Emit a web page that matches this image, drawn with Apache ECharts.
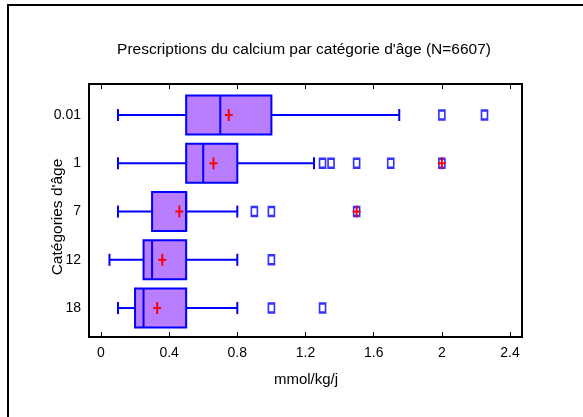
<!DOCTYPE html>
<html>
<head>
<meta charset="utf-8">
<script src="https://cdn.jsdelivr.net/npm/echarts@6/dist/echarts.min.js"></script>
<style>html,body{margin:0;padding:0;background:#fff}#c{width:583px;height:417px}</style>
</head>
<body>
<div id="c"></div>
<script>
var categories = ['0.01', '1', '7', '12', '18'];
var whiskerLow = [0.1, 0.1, 0.1, 0.05, 0.1];
var q1 = [0.5, 0.5, 0.3, 0.25, 0.2];
var median = [0.7, 0.6, 0.5, 0.3, 0.25];
var q3 = [1.0, 0.8, 0.5, 0.5, 0.5];
var whiskerHigh = [1.75, 1.25, 0.8, 0.8, 0.8];
var means = [0.75, 0.66, 0.46, 0.36, 0.33];
var outliers = [[0, 2.0], [0, 2.25], [1, 1.3], [1, 1.35], [1, 1.5], [1, 1.7], [1, 2.0], [2, 0.9], [2, 1.0], [2, 1.5], [3, 1.0], [4, 1.0], [4, 1.3]];
var extremes = [[1, 2.0], [2, 1.5]];
var xTicks = [0, 0.4, 0.8, 1.2, 1.6, 2, 2.4];

var FONT = 'Liberation Sans';
var BLUE = '#0000ff';
var FILL = '#b97dff';
var RED = '#ff0000';

var boxData = categories.map(function (c, i) {
  return [i + 1, whiskerLow[i], q1[i], median[i], q3[i], whiskerHigh[i]];
});
var meanData = categories.map(function (c, i) { return [means[i], i + 1]; });
var outlierData = outliers.map(function (o) { return [o[1], o[0] + 1]; });
var extremeData = extremes.map(function (o) { return [o[1], o[0] + 1]; });

function renderBox(params, api) {
  var y = api.value(0);
  var pLow = api.coord([api.value(1), y]);
  var pQ1 = api.coord([api.value(2), y]);
  var pMed = api.coord([api.value(3), y]);
  var pQ3 = api.coord([api.value(4), y]);
  var pHigh = api.coord([api.value(5), y]);
  var h = 39, cap = 12;
  var cy = pQ1[1];
  var ls = { stroke: BLUE, lineWidth: 2 };
  return {
    type: 'group',
    children: [
      { type: 'line', shape: { x1: pLow[0], y1: cy, x2: pQ1[0], y2: cy }, style: ls },
      { type: 'line', shape: { x1: pQ3[0], y1: cy, x2: pHigh[0], y2: cy }, style: ls },
      { type: 'line', shape: { x1: pLow[0], y1: cy - cap / 2, x2: pLow[0], y2: cy + cap / 2 }, style: ls },
      { type: 'line', shape: { x1: pHigh[0], y1: cy - cap / 2, x2: pHigh[0], y2: cy + cap / 2 }, style: ls },
      { type: 'rect', shape: { x: pQ1[0], y: cy - h / 2, width: pQ3[0] - pQ1[0], height: h }, style: { fill: FILL, stroke: BLUE, lineWidth: 2 } },
      { type: 'line', shape: { x1: pMed[0], y1: cy - h / 2, x2: pMed[0], y2: cy + h / 2 }, style: ls }
    ]
  };
}

function renderPlus(params, api) {
  var p = api.coord([api.value(0), api.value(1)]);
  var ls = { stroke: RED, lineWidth: 2 };
  return {
    type: 'group',
    children: [
      { type: 'line', shape: { x1: p[0] - 4, y1: p[1], x2: p[0] + 4, y2: p[1] }, style: ls },
      { type: 'line', shape: { x1: p[0], y1: p[1] - 6, x2: p[0], y2: p[1] + 6 }, style: ls }
    ]
  };
}

var chart = echarts.init(document.getElementById('c'), null, { renderer: 'canvas' });
var option = {
  backgroundColor: '#fff',
  animation: false,
  grid: { left: 89, top: 84, width: 433, height: 253, show: true, borderColor: '#000', borderWidth: 2, backgroundColor: 'transparent' },
  xAxis: [{
    type: 'value', min: -0.07, max: 2.47, position: 'bottom',
    axisLine: { show: true, onZero: false, lineStyle: { color: '#000', width: 2 } },
    axisTick: { show: true, inside: true, length: 5, customValues: xTicks, lineStyle: { color: '#000', width: 1 } },
    axisLabel: { show: true, customValues: xTicks, margin: 9, color: '#000', fontFamily: FONT, fontSize: 14 },
    splitLine: { show: false }
  }, {
    type: 'value', min: -0.07, max: 2.47, position: 'top',
    axisLine: { show: true, onZero: false, lineStyle: { color: '#000', width: 2 } },
    axisTick: { show: true, inside: true, length: 5, customValues: xTicks, lineStyle: { color: '#000', width: 1 } },
    axisLabel: { show: false },
    splitLine: { show: false }
  }],
  yAxis: {
    type: 'value', min: 0.357, max: 5.6, inverse: true,
    axisLine: { show: true, onZero: false, lineStyle: { color: '#000', width: 2 } },
    axisTick: { show: false },
    axisLabel: {
      show: true, customValues: [1, 2, 3, 4, 5], margin: 8, color: '#000', fontFamily: FONT, fontSize: 14,
      formatter: function (v) { return categories[Math.round(v) - 1]; }
    },
    splitLine: { show: false }
  },
  graphic: [
    { type: 'rect', shape: { x: 8, y: 5, width: 700, height: 600 }, style: { fill: 'none', stroke: '#000', lineWidth: 2 }, silent: true, z: 100 },
    { type: 'text', x: 304, y: 50, style: { text: "Prescriptions du calcium par catégorie d'âge (N=6607)", fill: '#000', font: '15.5px "Liberation Sans"', textAlign: 'center', textVerticalAlign: 'middle' } },
    { type: 'text', x: 306, y: 380, style: { text: 'mmol/kg/j', fill: '#000', font: '15px "Liberation Sans"', textAlign: 'center', textVerticalAlign: 'middle' } },
    { type: 'text', x: 58, y: 217, rotation: Math.PI / 2, style: { text: "Catégories d'âge", fill: '#000', font: '15.5px "Liberation Sans"', textAlign: 'center', textVerticalAlign: 'middle' } }
  ],
  series: [
    { type: 'custom', renderItem: renderBox, data: boxData, clip: false, encode: { x: [1, 2, 3, 4, 5], y: 0 } },
    { type: 'scatter', data: outlierData, symbol: 'rect', symbolSize: [6, 9], itemStyle: { color: '#fff', borderColor: BLUE, borderWidth: 2 } },
    { type: 'custom', renderItem: renderPlus, data: meanData, clip: false, z: 5 },
    { type: 'custom', renderItem: renderPlus, data: extremeData, clip: false, z: 5 }
  ]
};
chart.setOption(option);
</script>
</body>
</html>
